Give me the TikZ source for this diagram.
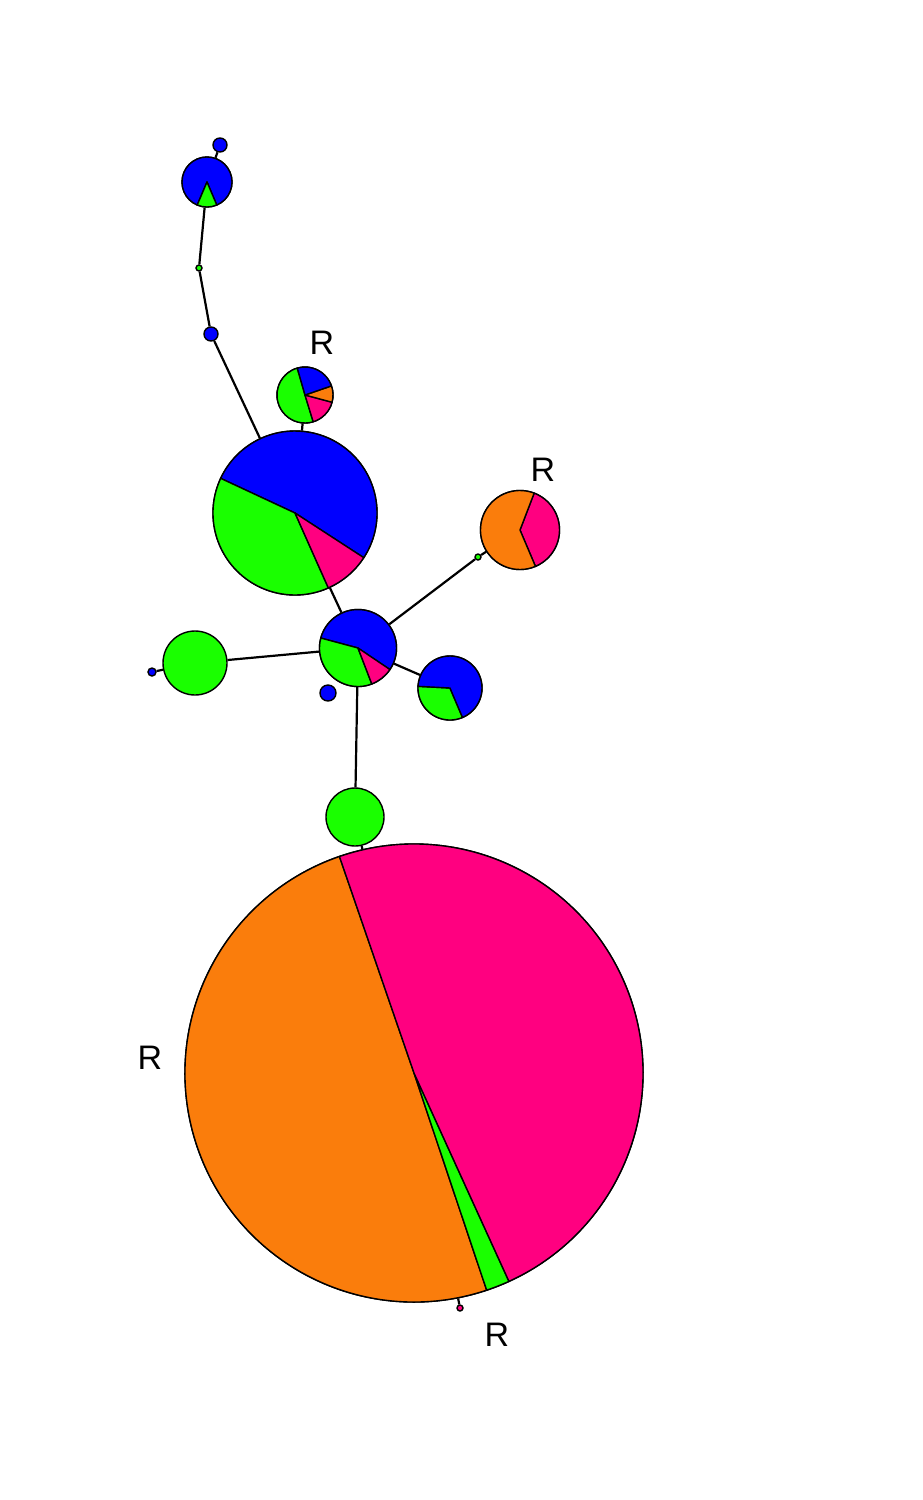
\documentclass[tikz,border=0pt]{standalone}
\usepackage{fontspec}
\setmainfont{Liberation Sans}
\usetikzlibrary{positioning}
\definecolor{hblue}{RGB}{0,0,255}
\definecolor{hgreen}{RGB}{26,255,0}
\definecolor{horange}{RGB}{250,125,12}
\definecolor{hpink}{RGB}{255,0,128}
\tikzset{
  hap/.style={circle,draw=black,line width=1.4pt,inner sep=0pt,minimum size=#1},
  link/.style={draw=black,line width=2.2pt},
  lab/.style={font=\fontsize{34}{40}\selectfont}
}
% one slice of a pie: centre node, radius, from, to, colour
\newcommand{\wedgeof}[5]{\filldraw[fill=#5,draw=black,line width=1.4pt,line join=round] (#1.center) -- ++(#3:#2pt) arc[start angle=#3,end angle=#4,radius=#2pt] -- cycle;}

\begin{document}
\begin{tikzpicture}[x=1pt,y=1pt]
\useasboundingbox (0,0) rectangle (923,-1500);
% haplotypes
\node[hap=14pt,fill=hblue] (tip) at (220,-145) {};
\node[hap=50pt] (top) at (207,-182) {};
\node[hap=6pt,fill=hgreen] (g1) at (199,-268) {};
\node[hap=14pt,fill=hblue] (b1) at (211,-334) {};
\node[hap=56pt] (rsmall) at (305,-395) {};
\node[hap=164pt] (big) at (295,-513) {};
\node[hap=77pt] (hub) at (358,-648) {};
\node[hap=16pt,fill=hblue] (b2) at (328,-693) {};
\node[hap=64pt,fill=hgreen] (left) at (195,-663) {};
\node[hap=8pt,fill=hblue] (b3) at (152,-672) {};
\node[hap=64pt] (right) at (450,-688) {};
\node[hap=6pt,fill=hgreen] (g2) at (478,-557) {};
\node[hap=79pt] (rorange) at (520,-530) {};
\node[hap=58pt,fill=hgreen] (low) at (355,-817) {};
\node[hap=458pt] (main) at (414,-1073) {};
\node[hap=6pt,fill=hpink] (p1) at (460,-1308) {};
% pies
\foreach \a/\b/\c in {293/607/hblue,247/293/hgreen}
  {\wedgeof{top}{25}{\a}{\b}{\c}}
\foreach \a/\b/\c in {106/287/hgreen,287/345/hpink,345/379/horange,379/466/hblue}
  {\wedgeof{rsmall}{28}{\a}{\b}{\c}}
\foreach \a/\b/\c in {-33/155/hblue,155/294/hgreen,294/327/hpink}
  {\wedgeof{big}{82}{\a}{\b}{\c}}
\foreach \a/\b/\c in {-34/165/hblue,165/291/hgreen,291/326/hpink}
  {\wedgeof{hub}{38.5}{\a}{\b}{\c}}
\foreach \a/\b/\c in {177/293/hgreen,293/537/hblue}
  {\wedgeof{right}{32}{\a}{\b}{\c}}
\foreach \a/\b/\c in {-67/69/hpink,69/293/horange}
  {\wedgeof{rorange}{39.5}{\a}{\b}{\c}}
\foreach \a/\b/\c in {109/288.5/horange,288.5/294.5/hgreen,294.5/469/hpink}
  {\wedgeof{main}{229}{\a}{\b}{\c}}
% links
\path[link] (tip) -- (top)
  (top) -- (g1) (g1) -- (b1) (b1) -- (big)
  (rsmall) -- (big) (big) -- (hub)
  (hub) -- (g2) (g2) -- (rorange)
  (hub) -- (left) (left) -- (b3)
  (hub) -- (right) (hub) -- (low)
  (low) -- (main) (main) -- (p1);
% labels
\node[lab] (r1) at (322,-343) {R};
\node[lab] (r2) at (543,-470) {R};
\node[lab] (r3) at (150,-1058) {R};
\node[lab] (r4) at (497,-1335) {R};
\end{tikzpicture}
\end{document}
